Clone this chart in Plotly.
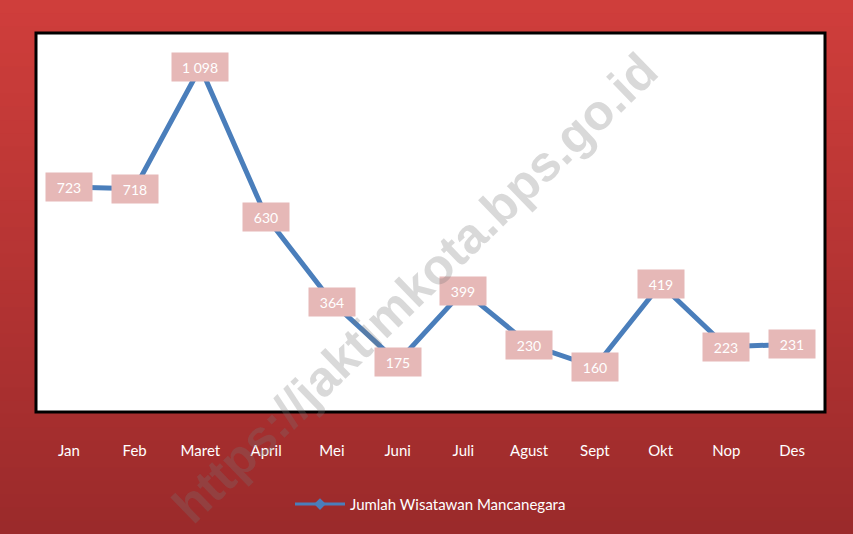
import plotly.graph_objects as go

months = ["Jan", "Feb", "Maret", "April", "Mei", "Juni", "Juli", "Agust", "Sept", "Okt", "Nop", "Des"]
visitors = [723, 718, 1098, 630, 364, 175, 399, 230, 160, 419, 223, 231]
series_name = "Jumlah Wisatawan Mancanegara"

W, H = 853, 534
L, R, T, B = 36, 28, 33, 122
plot_w, plot_h = W - L - R, H - T - B
FONT = "Lato, Open Sans, sans-serif"
BLUE = "#4A7EBB"

fig = go.Figure()
fig.add_trace(go.Scatter(
    x=months, y=visitors, name=series_name, mode="lines+markers", showlegend=False,
    line=dict(color=BLUE, width=5),
    marker=dict(symbol="diamond", size=9, color=BLUE),
))
# legend entry with the thinner line used in the original key
fig.add_trace(go.Scatter(
    x=[None], y=[None], name=series_name, mode="lines+markers",
    line=dict(color=BLUE, width=3), marker=dict(symbol="diamond", size=9, color=BLUE),
))

# red gradient background made of thin bands
shapes = []
top_c, bot_c = (207, 62, 59), (155, 42, 43)
n = 40
y0p, y1p = -B / plot_h, 1 + T / plot_h
for i in range(n):
    f = i / (n - 1)
    c = tuple(round(top_c[k] + (bot_c[k] - top_c[k]) * f) for k in range(3))
    ya = y1p - (y1p - y0p) * i / n
    yb = y1p - (y1p - y0p) * (i + 1) / n
    shapes.append(dict(type="rect", xref="paper", yref="paper", x0=-L / plot_w, x1=1 + R / plot_w,
                       y0=yb - 0.002, y1=ya, fillcolor="rgb(%d,%d,%d)" % c, line_width=0, layer="below"))
# plot area white with black frame
shapes.append(dict(type="rect", xref="paper", yref="paper", x0=0, x1=1, y0=0, y1=1,
                   fillcolor="white", line=dict(color="black", width=3), layer="below"))

annotations = []
for m, v in zip(months, visitors):
    txt = f"{v:,}".replace(",", " ")
    annotations.append(dict(
        x=m, y=v, text=txt, showarrow=False,
        font=dict(family=FONT, size=14, color="white"),
        bgcolor="#E6B8B7", borderpad=5, width=36 if len(txt) <= 3 else 46, height=18,
        xanchor="center", yanchor="middle",
    ))
# watermark
annotations.append(dict(
    xref="paper", yref="paper", x=(415 - L) / plot_w, y=1 - (288 - T) / plot_h,
    xanchor="center", yanchor="middle",
    text="<b>https://jaktimkota.bps.go.id</b>", showarrow=False, textangle=-44,
    font=dict(family="Liberation Sans, Arial, sans-serif", size=50, color="rgba(120,120,120,0.28)"),
))

fig.update_layout(
    width=W, height=H,
    margin=dict(l=L, r=R, t=T, b=B),
    paper_bgcolor="#B83434", plot_bgcolor="rgba(0,0,0,0)",
    shapes=shapes, annotations=annotations,
    showlegend=True,
    legend=dict(orientation="h", x=0.5, xanchor="center", y=-0.2, yanchor="top", itemwidth=50,
                font=dict(family=FONT, size=15, color="white"), bgcolor="rgba(0,0,0,0)"),
    xaxis=dict(range=[-0.5, 11.5], showgrid=False, zeroline=False, showline=False,
               ticks="outside", ticklen=0, ticklabelstandoff=25,
               tickfont=dict(family=FONT, size=15, color="white")),
    yaxis=dict(range=[19, 1205], showgrid=False, zeroline=False, showline=False, showticklabels=False),
)

fig.write_html("out.html", config={"displayModeBar": False},
               post_script="document.body.style.margin='0';")
